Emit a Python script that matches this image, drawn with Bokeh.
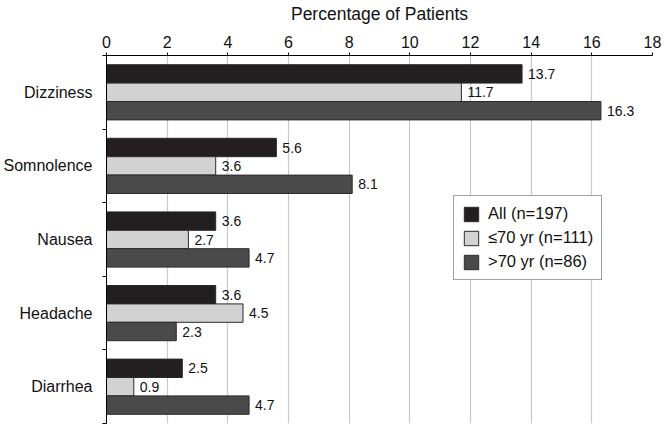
from bokeh.plotting import figure
from bokeh.models import Range1d, FixedTicker, LinearAxis, Legend, LegendItem, ColumnDataSource, Grid
from bokeh.core.properties import value
from bokeh.embed import file_html
from bokeh.resources import INLINE

categories = ["Dizziness", "Somnolence", "Nausea", "Headache", "Diarrhea"]
series_names = ["All (n=197)", "\u226470 yr (n=111)", ">70 yr (n=86)"]
all_pts = [13.7, 5.6, 3.6, 3.6, 2.5]
le70 = [11.7, 3.6, 2.7, 4.5, 0.9]
gt70 = [16.3, 8.1, 4.7, 2.3, 4.7]
x_ticks = [0, 2, 4, 6, 8, 10, 12, 14, 16, 18]

colors = ["#231f20", "#d2d2d2", "#4a4a4a"]
FONT = "Liberation Sans"

p = figure(frame_width=546, frame_height=368, output_backend="svg", toolbar_location=None,
           x_range=Range1d(0, 18), y_range=Range1d(4.5, -0.5),
           x_axis_location=None, y_axis_location=None,
           min_border_left=102, min_border_right=10, min_border_top=45, min_border_bottom=3)
p.outline_line_color = None
p.background_fill_color = "white"

# top axis
xa = LinearAxis(ticker=FixedTicker(ticks=x_ticks), axis_label="Percentage of Patients")
xa.major_tick_in = 0
xa.major_tick_out = 3
xa.minor_tick_out = 0
xa.minor_tick_in = 0
xa.axis_line_color = "black"
xa.major_tick_line_color = "black"
xa.major_label_text_font = FONT
xa.major_label_text_font_size = "16px"
xa.major_label_text_color = "#111111"
xa.major_label_standoff = 5
xa.axis_label_text_font = FONT
xa.axis_label_text_font_size = "17.5px"
xa.axis_label_text_font_style = "normal"
xa.axis_label_text_color = "#111111"
xa.axis_label_standoff = 9
p.add_layout(xa, "above")

# left axis
idx = list(range(len(categories)))
ya = LinearAxis(ticker=FixedTicker(ticks=idx, minor_ticks=[i - 0.5 for i in idx] + [len(idx) - 0.5]))
ya.major_label_overrides = {i: c for i, c in zip(idx, categories)}
ya.major_tick_out = 0
ya.major_tick_in = 0
ya.minor_tick_out = 4
ya.minor_tick_in = 0
ya.minor_tick_line_color = "black"
ya.axis_line_color = "black"
ya.major_label_text_font = FONT
ya.major_label_text_font_size = "16px"
ya.major_label_text_color = "#111111"
ya.major_label_standoff = 10
p.add_layout(ya, "left")

p.xgrid.grid_line_color = None
p.ygrid.grid_line_color = None
g = Grid(dimension=0, ticker=FixedTicker(ticks=x_ticks), grid_line_color="#c8c8c8", grid_line_width=1.2)
p.add_layout(g)

offsets = [-0.25, 0.0, 0.25]
bar_h = 0.25
items = []
for vals, name, col, off in zip([all_pts, le70, gt70], series_names, colors, offsets):
    src = ColumnDataSource(dict(y=[i + off for i in idx], v=vals,
                                t=[f"{v:.1f}" for v in vals]))
    r = p.hbar(y="y", right="v", left=0, height=bar_h, source=src,
               fill_color=col, line_color="#2a2a2a", line_width=1)
    p.text(x="v", y="y", text="t", source=src, x_offset=6, text_baseline="middle",
           text_align="left", text_font=value(FONT), text_font_size="14px", text_color="#111111")
    items.append(LegendItem(label=name, renderers=[r]))

legend = Legend(items=items, location=(347, 143))
legend.glyph_width = 18
legend.glyph_height = 18
legend.label_height = 18
legend.spacing = 5
legend.padding = 8
legend.margin = 0
legend.label_standoff = 8
legend.label_text_font = FONT
legend.label_text_font_size = "16.5px"
legend.label_text_color = "#111111"
legend.border_line_color = "#444444"
legend.border_line_width = 1
legend.background_fill_color = "white"
legend.background_fill_alpha = 1
p.add_layout(legend, "center")

open("out.html", "w").write(file_html(p, INLINE))
